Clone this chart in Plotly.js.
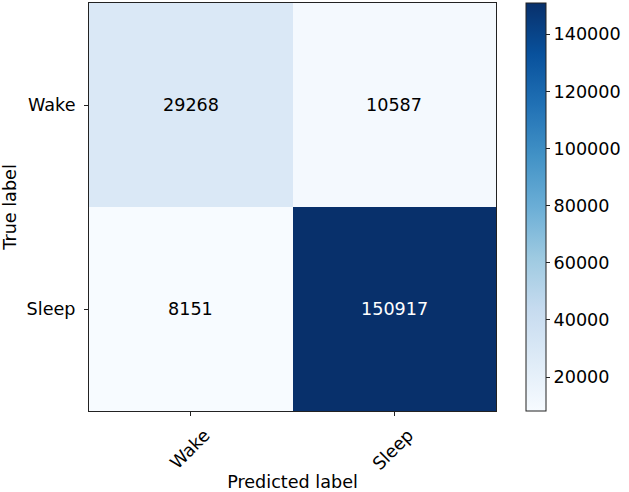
<!DOCTYPE html>
<html><head><meta charset="utf-8">
<script src="https://cdn.plot.ly/plotly-3.0.1.min.js"></script>
<style>html,body{margin:0;padding:0;background:#fff}#chart{width:629px;height:492px}</style>
</head><body><div id="chart"></div>
<script>
const predictedLabels = ['Wake', 'Sleep'];
const trueLabels = ['Wake', 'Sleep'];
const counts = [
  [29268, 10587],
  [8151, 150917]
];
const colorbarTicks = [20000, 40000, 60000, 80000, 100000, 120000, 140000];

const blues = [
  [0.0, '#f7fbff'], [0.125, '#deebf7'], [0.25, '#c6dbef'], [0.375, '#9ecae1'],
  [0.5, '#6baed6'], [0.625, '#4292c6'], [0.75, '#2171b5'], [0.875, '#08519c'], [1.0, '#08306b']
];

const flat = counts.flat();
const zmin = Math.min(...flat), zmax = Math.max(...flat);
const thresh = zmax / 2;
const FONT = 'DejaVu Sans';
const FS = 17.6;

const annotations = [];
trueLabels.forEach((t, i) => {
  predictedLabels.forEach((p, j) => {
    const v = counts[i][j];
    annotations.push({
      x: p, y: t, xref: 'x', yref: 'y', text: String(v), showarrow: false,
      font: {family: FONT, size: FS, color: v > thresh ? '#ffffff' : '#000000'}
    });
  });
});

const trace = {
  type: 'heatmap', z: counts, x: predictedLabels, y: trueLabels,
  colorscale: blues, zmin: zmin, zmax: zmax, hoverinfo: 'skip', xgap: 0, ygap: 0,
  colorbar: {
    x: 1.0737, xanchor: 'left', xpad: 0, ypad: 0, y: 0.5, yanchor: 'middle',
    len: 1, lenmode: 'fraction', thickness: 20, thicknessmode: 'pixels',
    outlinecolor: '#222', outlinewidth: 1,
    tickvals: colorbarTicks, tickformat: 'd', ticks: 'outside', ticklen: 4, tickcolor: '#222',
    tickprefix: '\u2002',
    tickfont: {family: FONT, size: FS, color: '#000'}
  }
};

const layout = {
  width: 629, height: 492,
  margin: {l: 89, r: 133, t: 3, b: 81},
  paper_bgcolor: '#fff', plot_bgcolor: '#fff',
  font: {family: FONT, size: FS, color: '#000'},
  xaxis: {
    type: 'category', showline: true, mirror: true, linecolor: '#222', linewidth: 1,
    ticks: 'outside', ticklen: 4, tickcolor: '#222', tickangle: -45,
    ticklabelshift: 14, ticklabelstandoff: 2,
    tickfont: {family: FONT, size: FS}, showgrid: false, zeroline: false,
    title: {text: 'Predicted label', font: {family: FONT, size: FS}, standoff: 6}
  },
  yaxis: {
    type: 'category', autorange: 'reversed', showline: true, mirror: true, linecolor: '#222', linewidth: 1,
    ticks: 'outside', ticklen: 4, tickcolor: '#222', ticklabelstandoff: 5,
    tickfont: {family: FONT, size: FS}, showgrid: false, zeroline: false,
    title: {text: 'True label', font: {family: FONT, size: FS}, standoff: 8}
  },
  annotations: annotations
};

Plotly.newPlot('chart', [trace], layout, {displayModeBar: false, staticPlot: true});
</script></body></html>
